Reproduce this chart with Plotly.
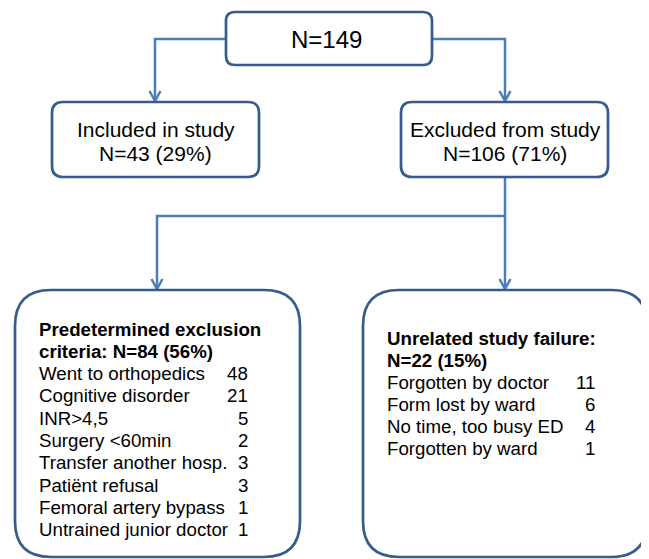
import plotly.graph_objects as go

# ---- data (text content) ----
top_label = "N=149"
included_lines = ["Included in study", "N=43 (29%)"]
excluded_lines = ["Excluded from study", "N=106 (71%)"]
left_title = ["Predetermined exclusion", "criteria: N=84 (56%)"]
left_items = ["Went to orthopedics", "Cognitive disorder", "INR>4,5", "Surgery <60min",
              "Transfer another hosp.", "Patiënt refusal", "Femoral artery bypass",
              "Untrained junior doctor"]
left_counts = [48, 21, 5, 2, 3, 3, 1, 1]
right_title = ["Unrelated study failure:", "N=22 (15%)"]
right_items = ["Forgotten by doctor", "Form lost by ward", "No time, too busy ED", "Forgotten by ward"]
right_counts = [11, 6, 4, 1]

# ---- layout geometry (pixel coordinates of the page) ----
W, H = 649, 559
OFF = 8  # default page body margin
BORDER = "#365B8C"
CONN = "#4A7EBB"
FONT = "Arial, Liberation Sans, sans-serif"

boxes = {
    "top": (226, 12, 432, 65, 9),
    "incl": (52, 102, 259, 177, 11),
    "excl": (401, 102, 608, 177, 11),
    "left": (15, 290, 300, 557, 36),
    "right": (363, 290, 647, 557, 36),
}


def rrect(x0, y0, x1, y1, r):
    return (f"M {x0+r},{y0} L {x1-r},{y0} Q {x1},{y0} {x1},{y0+r} "
            f"L {x1},{y1-r} Q {x1},{y1} {x1-r},{y1} L {x0+r},{y1} "
            f"Q {x0},{y1} {x0},{y1-r} L {x0},{y0+r} Q {x0},{y0} {x0+r},{y0} Z")


shapes = []
for key, (x0, y0, x1, y1, r) in boxes.items():
    shapes.append(dict(type="path", path=rrect(x0, y0, x1, y1, r), xref="x", yref="y",
                       line=dict(color=BORDER, width=2.7), fillcolor="white", layer="above"))


def poly(points):
    p = "M " + " L ".join(f"{x},{y}" for x, y in points)
    shapes.append(dict(type="path", path=p, xref="x", yref="y",
                       line=dict(color=CONN, width=2.5), layer="below"))


def arrowhead(x, y):
    poly([(x - 5.5, y - 10), (x, y), (x + 5.5, y - 10)])


# connectors
poly([(226, 39), (155, 39), (155, 101)])
arrowhead(155, 101)
poly([(432, 39), (505, 39), (505, 101)])
arrowhead(505, 101)
poly([(505, 177), (505, 216)])
poly([(505, 216), (157, 216), (157, 289)])
arrowhead(157, 289)
poly([(505, 216), (505, 289)])
arrowhead(505, 289)

ann = []


def txt(x, y, s, size=18.7, anchor="left", bold=False):
    ann.append(dict(x=x, y=y, xref="x", yref="y", text=f"<b>{s}</b>" if bold else s,
                    showarrow=False, xanchor=anchor, yanchor="middle",
                    font=dict(family=FONT, size=size, color="black")))


txt(326, 39, top_label, size=24, anchor="center")
for i, s in enumerate(included_lines):
    txt(155.5, 129 + 24 * i, s, size=21, anchor="center")
for i, s in enumerate(excluded_lines):
    txt(505, 129 + 24 * i, s, size=21, anchor="center")

step = 22.3
for i, s in enumerate(left_title):
    txt(37, 329 + step * i, s, bold=True)
for i, (s, c) in enumerate(zip(left_items, left_counts)):
    y = 329 + step * (i + 2)
    txt(37, y, s)
    txt(250, y, str(c), anchor="right")

step_r = 22.0
for i, s in enumerate(right_title):
    txt(385, 338 + step_r * i, s, bold=True)
for i, (s, c) in enumerate(zip(right_items, right_counts)):
    y = 338 + step_r * (i + 2)
    txt(385, y, s)
    txt(597, y, str(c), anchor="right")

fig = go.Figure()
fig.update_layout(
    width=W - OFF, height=H - OFF, margin=dict(l=0, r=0, t=0, b=0),
    paper_bgcolor="white", plot_bgcolor="white",
    xaxis=dict(range=[OFF, W], visible=False, fixedrange=True),
    yaxis=dict(range=[H, OFF], visible=False, fixedrange=True),
    shapes=shapes, annotations=ann, showlegend=False,
)
fig.write_html("out.html", config={"displayModeBar": False})
